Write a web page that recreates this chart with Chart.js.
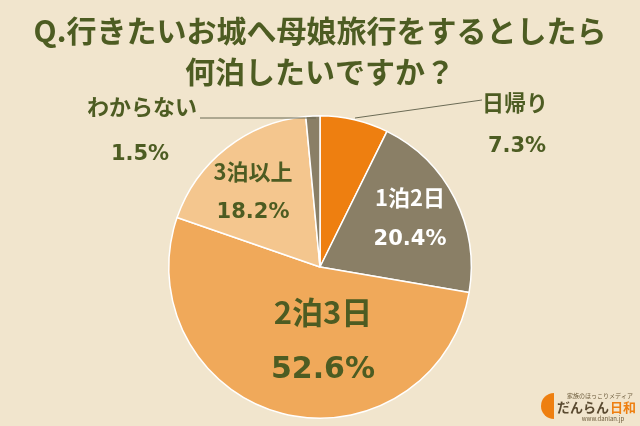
<!DOCTYPE html>
<html>
<head>
<meta charset="utf-8">
<script src="https://cdn.jsdelivr.net/npm/chart.js@4"></script>
<style>
  html, body { margin: 0; padding: 0; background: #f1e5cd; }
  #wrap { width: 640px; height: 426px; }
</style>
</head>
<body>
<div id="wrap"><canvas id="pie"></canvas></div>
<script>
const categories = ['日帰り', '1泊2日', '2泊3日', '3泊以上', 'わからない'];
const values = [7.3, 20.4, 52.6, 18.2, 1.5];
const valueLabels = ['7.3%', '20.4%', '52.6%', '18.2%', '1.5%'];
const colors = ['#ee7f10', '#8a7f66', '#f0a95a', '#f4c68e', '#8a7f66'];

const green = '#4d5c22';

// label placement per slice: [nameX, nameY, valueX, valueY, fontSize, color, leader]
const labelPlaces = [
  [515, 103, 517, 147, 22, green, [[355, 118], [482, 100]]],
  [410, 198, 410, 240, 22, '#ffffff', null],
  [323, 312, 323, 370, 31, green, null],
  [253, 172, 253, 213, 22, green, null],
  [142, 107, 140, 155, 22, green, [[316, 118], [200, 118]]]
];

const decor = {
  id: 'decor',
  afterDraw(chart) {
    const ctx = chart.ctx;
    ctx.save();
    ctx.fillStyle = green;
    ctx.textAlign = 'center';
    ctx.textBaseline = 'middle';
    ctx.font = 'bold 30px "Noto Sans CJK JP"';
    ctx.fillText('Q.行きたいお城へ母娘旅行をするとしたら', 320, 31);
    ctx.fillText('何泊したいですか？', 320, 72);

    labelPlaces.forEach((p, i) => {
      const [nx, ny, vx, vy, fs, col, leader] = p;
      if (leader) {
        ctx.strokeStyle = '#6b6b55';
        ctx.lineWidth = 1;
        ctx.beginPath();
        ctx.moveTo(leader[0][0], leader[0][1]);
        ctx.lineTo(leader[1][0], leader[1][1]);
        ctx.stroke();
      }
      ctx.fillStyle = col;
      ctx.font = 'bold ' + fs + 'px "Noto Sans CJK JP"';
      ctx.fillText(categories[i], nx, ny);
      ctx.font = 'bold ' + (fs - 1) + 'px "DejaVu Sans"';
      ctx.fillText(valueLabels[i], vx, vy);
    });

    // logo
    ctx.fillStyle = '#ee7f10';
    ctx.beginPath();
    ctx.moveTo(554, 393);
    ctx.arc(554, 406, 13, Math.PI / 2, Math.PI * 1.5);
    ctx.closePath();
    ctx.fill();
    ctx.fillStyle = '#6b5a3a';
    ctx.font = '6px "Noto Sans CJK JP"';
    ctx.fillText('家族のほっこりメディア', 600, 396);
    ctx.fillText('www.danlan.jp', 603, 419);
    ctx.font = 'bold 13px "Noto Sans CJK JP"';
    ctx.textAlign = 'left';
    ctx.fillStyle = '#5a4a30';
    ctx.fillText('だんらん', 557, 407);
    ctx.fillStyle = '#ee7f10';
    ctx.fillText('日和', 610, 407);
    ctx.restore();
  }
};

new Chart(document.getElementById('pie'), {
  type: 'pie',
  data: {
    labels: categories,
    datasets: [{
      data: values,
      backgroundColor: colors,
      borderColor: '#ffffff',
      borderWidth: 1.5
    }]
  },
  options: {
    responsive: true,
    maintainAspectRatio: false,
    animation: false,
    layout: { padding: { top: 115, bottom: 7 } },
    plugins: {
      legend: { display: false },
      tooltip: { enabled: false }
    }
  },
  plugins: [decor]
});
</script>
</body>
</html>
